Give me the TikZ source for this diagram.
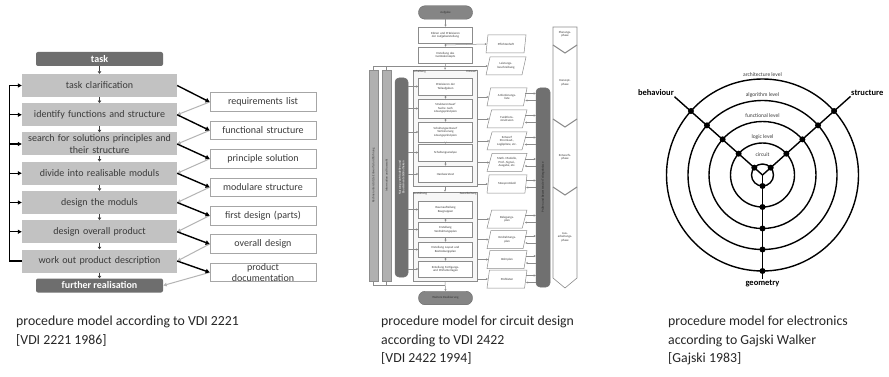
\documentclass[tikz,border=0pt]{standalone}
\usepackage{fontspec}
\setmainfont{Carlito}
\usetikzlibrary{arrows.meta,shapes.geometric,calc}
\definecolor{stepgrey}{HTML}{C2C2C2}
\definecolor{darkgrey}{HTML}{6E6E6E}
\definecolor{boxborder}{HTML}{A6A6A6}
\definecolor{arrgrey}{HTML}{B4B4B4}
\definecolor{textgrey}{HTML}{3A3A3A}
\definecolor{mgrey}{HTML}{8C8C8C}
\definecolor{mlight}{HTML}{B0B0B0}
\definecolor{mdark}{HTML}{707070}
\newcommand{\mtiny}{\fontsize{3.1}{3.6}\selectfont}
\tikzset{
  lstep/.style={fill=stepgrey, minimum width=155pt, minimum height=23pt, text width=150pt, align=center, inner sep=0pt, font=\fontsize{10}{12}\selectfont, text=textgrey},
  ldark/.style={fill=darkgrey, rounded corners=2pt, minimum width=127pt, minimum height=14pt, inner sep=0pt, text=white, font=\fontsize{10}{12}\selectfont\bfseries},
  lres/.style={draw=boxborder, fill=white, line width=0.7pt, minimum width=106pt, minimum height=18.5pt, text width=100pt, align=center, inner sep=0pt, font=\fontsize{10}{11.5}\selectfont, text=textgrey},
  darr/.style={draw=black!75, line width=0.6pt, -{Triangle[length=2.5pt,width=3.5pt]}},
  fbarr/.style={draw=black, line width=1.3pt, -{Triangle[length=4pt,width=4pt]}},
  barr/.style={draw=black, line width=1.4pt, -{Triangle[length=4pt,width=4.5pt]}},
  garr/.style={draw=arrgrey, line width=1pt, -{Triangle[length=3.5pt,width=3.5pt]}},
  mbox/.style={draw=mgrey, fill=white, line width=0.5pt, minimum width=54pt, inner sep=0.3pt, text width=52pt, align=center, font=\mtiny, text=textgrey},
  mpill/.style={draw=black!60, fill=mdark!85, rounded corners=6.5pt, minimum width=54pt, minimum height=13.5pt, inner sep=0pt, font=\mtiny, text=black!80},
  mframe/.style={draw=mgrey, fill=black!3, line width=0.6pt, minimum width=64pt, inner sep=0pt},
  mpara/.style={trapezium, trapezium left angle=72, trapezium right angle=108, trapezium stretches=true, draw=mgrey, fill=white, line width=0.5pt, minimum width=40pt, minimum height=18pt, inner sep=0.3pt, align=center, font=\mtiny, text=textgrey},
  mbar/.style={draw=mgrey, fill=mlight, line width=0.5pt, minimum width=9pt, minimum height=211pt, inner sep=0pt},
  mdbar/.style={draw=black!55, fill=mdark, rounded corners=4pt, line width=0.5pt, inner sep=0pt},
  mline/.style={draw=mgrey, line width=0.5pt},
  marr/.style={draw=mgrey, line width=0.5pt, -{Stealth[length=2pt,width=2pt]}},
  mlab/.style={font=\mtiny, text=textgrey, inner sep=0.5pt, align=center},
  ring/.style={draw=black, line width=1.4pt},
  axis/.style={draw=black, line width=1.4pt},
  gdot/.style={circle, fill=black, minimum size=6pt, inner sep=0pt},
  lvl/.style={font=\fontsize{5.5}{6}\selectfont, text=textgrey, inner sep=0pt},
  axlab/.style={font=\fontsize{8.5}{9}\selectfont\bfseries, text=black, inner sep=0.5pt},
  capt/.style={font=\fontsize{13.8}{18.5}\selectfont, text=black!85, align=left, inner sep=0pt, anchor=north west}
}
\begin{document}
\begin{tikzpicture}[x=1pt,y=-1pt]
\useasboundingbox[fill=white] (0,0) rectangle (889,377);

% ================= LEFT: VDI 2221 =================
\node[ldark] (task) at (99.5,59) {task};
\node[lstep] (s1) at (99.5,85.5) {task clarification};
\node[lstep] (s2) at (99.5,114.75) {identify functions and structure};
\node[lstep] (s3) at (99.5,144) {search for solutions principles and\\their structure};
\node[lstep] (s4) at (99.5,173.25) {divide into realisable moduls};
\node[lstep] (s5) at (99.5,202.5) {design the moduls};
\node[lstep] (s6) at (99.5,231.75) {design overall product};
\node[lstep] (s7) at (99.5,261) {work out product description};
\node[ldark] (fr) at (99.5,285.5) {further realisation};

\node[lres] (r1) at (263,102) {requirements list};
\node[lres] (r2) at (263,130.4) {functional structure};
\node[lres] (r3) at (263,158.8) {principle solution};
\node[lres] (r4) at (263,187.2) {modulare structure};
\node[lres] (r5) at (263,215.6) {first design (parts)};
\node[lres] (r6) at (263,244) {overall design};
\node[lres] (r7) at (263,272.4) {product\\documentation};

\foreach \a/\b in {task/s1,s1/s2,s2/s3,s3/s4,s4/s5,s5/s6,s6/s7,s7/fr}
  \draw[darr] (\a.south) -- (\b.north);

\coordinate (fbx) at (9.5,0);
\draw[fbarr] (s7.west) -- (s7.west -| fbx) |- (s1.west);
\foreach \s in {s2,s3,s4,s5,s6}
  \draw[fbarr] (\s.west -| fbx) -- (\s.west);

\foreach \i/\j in {1/s2,2/s3,3/s4,4/s5,5/s6,6/s7,7/fr}
  \draw[garr] (r\i.west) -- (\j.east);
\foreach \i in {1,...,7}
  \draw[barr] (s\i.east) -- (r\i.west);

% ================= MIDDLE: VDI 2422 =================
\node[mbar] (bar1) at (373.5,175.5) {};
\node[mbar] (bar2) at (386.5,175.5) {};
\node[mdbar, minimum width=13pt, minimum height=199pt] (db) at (401.5,177.5) {};
\node[mlab, rotate=90] (tb1) at (bar1) {Rechnerunterstützte Entwurfsdurchführung};
\node[mlab, rotate=90] (tb2) at (bar2) {Information und Auswahl};
\node[mlab, rotate=90, text=white] (tdb) at (db) {Nutzung von Modellen und\\Bauelementebibliotheken};

\node[mdbar, minimum width=14pt, minimum height=199pt] (rb) at (543,187.5) {};
\node[mlab, rotate=90, text=black!85] (trb) at (rb) {Prüfen und Bewerten der Teilergebnisse};

\node[mframe, minimum height=116pt] (f1) at (445,128) {};
\node[mframe, minimum height=89pt] (f2) at (445,236.5) {};
\node[mlab, anchor=north west] (f1a) at (f1.north west) {Schaltung};
\node[mlab, anchor=north east] (f1b) at (f1.north east) {Entwurf};
\node[mlab, anchor=north west] (f2a) at (f2.north west) {Gestaltung};
\node[mlab, anchor=north east] (f2b) at (f2.north east) {Ausarbeitung};

\node[mpill] (aufg) at (445.5,12.5) {Aufgabe};
\node[mbox, minimum height=16pt] (kl) at (445.5,35) {Klären und Präzisieren\\der Aufgabenstellung};
\node[mbox, minimum height=16pt] (gk) at (445.5,55) {Erstellung des\\Gerätekonzepts};
\node[mbox, minimum height=17pt] (p1) at (445.5,86.5) {Präzisieren der\\Teilaufgaben};
\node[mbox, minimum height=19pt] (p2) at (445.5,108.5) {Strukturentwurf\\Suche nach\\Lösungsprinzipien};
\node[mbox, minimum height=20pt] (p3) at (445.5,132) {Schaltungsentwurf\\Verfeinerung\\Lösungsprinzipien};
\node[mbox, minimum height=17pt] (p4) at (445.5,152.5) {Schaltungsanalyse};
\node[mbox, minimum height=16pt] (p5) at (445.5,174) {Hardwaretest};
\node[mbox, minimum height=17pt] (g1) at (445.5,209.5) {Raumaufteilung\\Baugruppen};
\node[mbox, minimum height=15pt] (g2) at (445.5,229.5) {Erstellung\\Verdrahtungsplan};
\node[mbox, minimum height=15pt] (g3) at (445.5,249.5) {Erstellung Layout und\\Bestückungsplan};
\node[mbox, minimum height=16pt] (g4) at (445.5,269) {Erstellung Fertigungs-\\und Prüfunterlagen};
\node[mpill] (wr) at (445.5,298) {Weitere Realisierung};

\foreach \a/\b in {aufg/kl,kl/gk,gk/f1,p1/p2,p2/p3,p3/p4,p4/p5,f1/f2,g1/g2,g2/g3,g3/g4}
  \draw[marr] (\a.south) -- (\b.north);
\draw[marr] (f2.south) -- (wr.north);

\node[mpara] (pf) at (506,44) {Pflichtenheft};
\node[mpara] (lb) at (506,66) {Leistungs-\\beschreibung};
\node[mpara] (a1) at (507,97) {Anforderungs-\\liste};
\node[mpara] (a2) at (507,119) {Funktions-\\strukturen};
\node[mpara] (a3) at (507,141) {Entwurf\\Stromlauf-,\\Logikpläne, etc.};
\node[mpara] (a4) at (507,162.5) {Math. Modelle,\\Prüf-, Signal-,\\Ausgabe, etc.};
\node[mpara] (a5) at (507,184) {Messprotokoll};
\node[mpara] (b1) at (507,219) {Belegungs-\\plan};
\node[mpara] (b2) at (507,239.5) {Verdrahtungs-\\plan};
\node[mpara] (b3) at (507,259.5) {Bohrplan};
\node[mpara] (b4) at (507,279) {Prüfdaten};

\draw[marr] ($(kl.south)!0.5!(gk.north)$) -- (pf.west);
\draw[marr] (bar1.north) |- (lb.west);
\draw[mline] (bar2.north) -- (bar2.north |- lb.west);

\coordinate (jn) at (445,285);
\draw[mline] (bar1.south) |- (jn);
\draw[mline] (bar2.south) -- (bar2.south |- jn);

\foreach \n in {p1,p2,p3,p4,p5,g1,g2,g3,g4}
  \draw[marr] (db.east |- \n.west) -- (\n.west);
\foreach \a in {a1,a2,a3,a4,a5}
  \draw[marr] (f1.east |- \a.west) -- (\a.west);
\foreach \a in {b1,b2,b3,b4}
  \draw[marr] (f2.east |- \a.west) -- (\a.west);
\foreach \a in {a1,a2,a3,a4,a5,b1,b2,b3,b4} {
  \draw[marr] ($(\a.east)+(0,-3.5)$) -- ($(\a.east -| rb.west)+(0,-3.5)$);
  \draw[marr] ($(\a.east -| rb.west)+(0,3.5)$) -- ($(\a.east)+(0,3.5)$);
}

\draw[mgrey, fill=white, line width=0.6pt] (553,27) -- (577,27) -- (577,278) -- (565,288) -- (553,278) -- cycle;
\foreach \y in {45,119,187}
  \draw[mgrey, line width=1pt] (553,\y) -- (565,\y+8) -- (577,\y);
\node[mlab] (ph1) at (565,34) {Planungs-\\phase};
\node[mlab] (ph2) at (565,83) {Konzept-\\phase};
\node[mlab] (ph3) at (565,157) {Entwurfs-\\phase};
\node[mlab] (ph4) at (565,237) {Aus-\\arbeitungs-\\phase};

% ================= RIGHT: Gajski-Walker =================
\begin{scope}[shift={(762.5,175)}, y=1pt]
  \coordinate (gc) at (0,0);
  \foreach \r in {11,32,53.5,74.5,96}
    \draw[ring] (gc) circle[radius=\r pt];
  \node[axlab, anchor=east] (beh) at (-88,82) {behaviour};
  \node[axlab, anchor=west] (str) at (88,82) {structure};
  \node[axlab, anchor=north] (geo) at (0,-104) {geometry};
  \draw[axis] (gc) -- (beh.south east);
  \draw[axis] (gc) -- (str.south west);
  \draw[axis] (gc) -- (geo.north);
  \foreach \r/\k in {11/1,32/2,53.5/3,74.5/4,96/5} {
    \node[gdot] (bd\k) at (138.2:\r) {};
    \node[gdot] (sd\k) at (41.8:\r) {};
    \node[gdot] (gd\k) at (-90:\r) {};
  }
  \node[lvl] (l5) at (0,100.5) {architecture level};
  \node[lvl] (l4) at (0,80) {algorithm level};
  \node[lvl] (l3) at (0,59) {functional level};
  \node[lvl] (l2) at (0,38) {logic level};
  \node[lvl] (l1) at (0,20) {circuit};
\end{scope}

% ================= CAPTIONS =================
\node[capt] (cap1) at (16,316) {procedure model according to VDI 2221\\{[VDI 2221 1986]}};
\node[capt] (cap2) at (381,316) {procedure model for circuit design\\according to VDI 2422\\{[VDI 2422 1994]}};
\node[capt] (cap3) at (668,316) {procedure model for electronics\\according to Gajski Walker\\{[Gajski 1983]}};
\end{tikzpicture}
\end{document}
